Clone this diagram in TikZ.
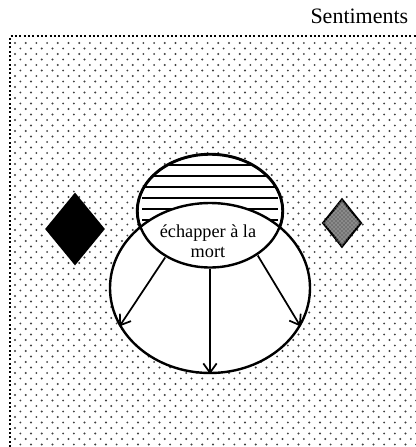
\documentclass[tikz,border=0pt]{standalone}
\usepackage{fontspec}
\setmainfont{Liberation Serif}
\usetikzlibrary{shapes.geometric,arrows.meta,patterns}
\tikzset{
  dotc/.style={fill=black!75},
  framebd/.style={line width=1.6pt, dash pattern=on 1.6pt off 1.65pt, black},
  oval/.style={ellipse, draw=black, line width=1.8pt, inner sep=0pt},
  arr/.style={line width=1.3pt, -{Straight Barb[length=7pt,width=10pt,line width=1.3pt]}},
  lbl/.style={font=\fontsize{13.7}{15}\selectfont, align=center},
}
\begin{document}
\begin{tikzpicture}[x=0.75pt,y=-0.75pt]
\useasboundingbox (0,0) rectangle (416,447);
\begin{scope}
\clip (10,36) rectangle (416,447);
\foreach \r in {0,...,74} {
  \pgfmathsetmacro\yy{43+5.5*\r}
  \pgfmathsetmacro\off{mod(\r,2)*5.35}
  \foreach \c in {0,...,38} {
    \fill[dotc] (15+\off+10.7*\c, \yy) circle[radius=0.8pt];
  }
}
\end{scope}
\draw[framebd] (10,460) -- (10,36) -- (430,36);
\node[anchor=base east, font=\fontsize{16.5}{19}\selectfont] (title) at (413,23) {Sentiments};
% top striped ellipse
\node[oval, fill=white, minimum width=109.5pt, minimum height=85.5pt,
  path picture={
    \foreach \k in {11,22,...,110} {
      \draw[line width=1.1pt] ([yshift=-\k*0.75pt, xshift=4pt]path picture bounding box.north west) -- ([yshift=-\k*0.75pt, xshift=-4pt]path picture bounding box.north east);
    }
  }] (top) at (210,211) {};
% big ellipse
\node[oval, fill=white, minimum width=150pt, minimum height=127.5pt] (big) at (210,288) {};
% outline of top ellipse again (lens border)
\draw[line width=1.8pt] (top.center) ellipse [x radius=72.5, y radius=56.5];
\node[lbl] (lens) at (208,241) {échapper à la\\mort};
% arrows
\draw[arr] (top.226) -- (big.203);
\draw[arr] (top.270) -- (big.270);
\draw[arr] (top.317) -- (big.337);
% diamonds
\node[diamond, fill=black, minimum width=45pt, minimum height=54.75pt, inner sep=0pt] (ld) at (75,229) {};
\node[diamond, draw=black, line width=1.6pt, fill=black!55, minimum width=29pt, minimum height=36pt, inner sep=0pt,
  postaction={pattern=crosshatch dots, pattern color=white!85!black}] (rd) at (342,223) {};
\end{tikzpicture}
\end{document}
